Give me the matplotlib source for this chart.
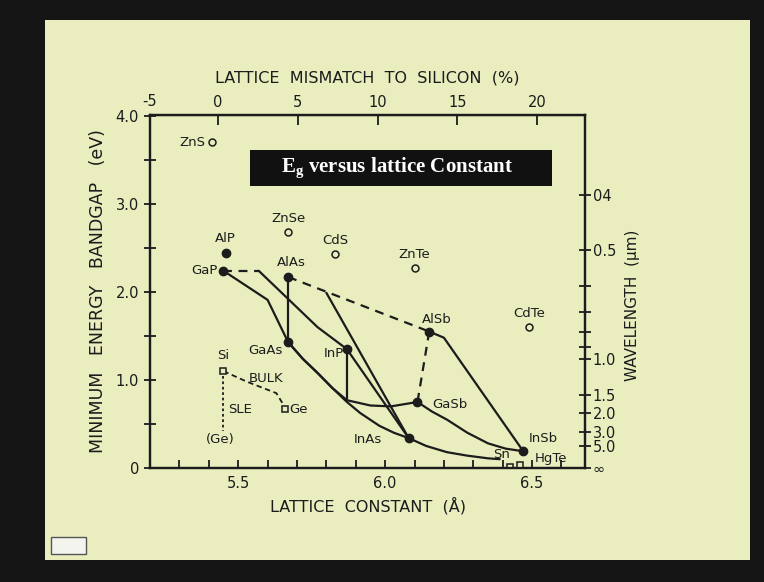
import numpy as np
import matplotlib.pyplot as plt
from matplotlib.patches import Rectangle

# binary compounds: lattice constant (A), gap (eV)
iii_v = ['AlP', 'GaP', 'AlAs', 'GaAs', 'InP', 'AlSb', 'GaSb', 'InAs', 'InSb']
iii_v_a = [5.46, 5.45, 5.67, 5.67, 5.87, 6.15, 6.11, 6.08, 6.47]
iii_v_eg = [2.44, 2.24, 2.17, 1.43, 1.35, 1.55, 0.75, 0.34, 0.19]

ii_vi = ['ZnS', 'ZnSe', 'CdS', 'ZnTe', 'CdTe']
ii_vi_a = [5.41, 5.67, 5.83, 6.10, 6.49]
ii_vi_eg = [3.70, 2.68, 2.43, 2.27, 1.60]

# ternary curves (a, Eg)
gap_gaas_a = [5.45, 5.60, 5.67]
gap_gaas_eg = [2.24, 1.91, 1.43]
gap_inp_dash_a = [5.45, 5.57]
gap_inp_dash_eg = [2.24, 2.24]
gap_inp_a = [5.57, 5.67, 5.77, 5.87]
gap_inp_eg = [2.24, 1.92, 1.60, 1.35]
alas_gaas_a = [5.67, 5.67]
alas_gaas_eg = [2.17, 1.43]
alas_alsb_a = [5.67, 6.15]
alas_alsb_eg = [2.17, 1.55]
alinas_a = [5.80, 6.08]
alinas_eg = [1.99, 0.34]
inp_inas_a = [5.87, 6.08]
inp_inas_eg = [1.35, 0.34]
inp_drop_a = [5.87, 5.87]
inp_drop_eg = [1.35, 0.78]
gaas_gasb_a = [5.67, 5.72, 5.77, 5.82, 5.87, 5.95, 6.02, 6.11]
gaas_gasb_eg = [1.43, 1.24, 1.08, 0.91, 0.77, 0.71, 0.70, 0.75]
gaas_inas_a = [5.67, 5.72, 5.77, 5.82, 5.87, 5.915, 5.98, 6.03, 6.08]
gaas_inas_eg = [1.43, 1.24, 1.08, 0.91, 0.75, 0.625, 0.48, 0.40, 0.34]
inas_insb_a = [6.08, 6.14, 6.21, 6.28, 6.35, 6.39]
inas_insb_eg = [0.34, 0.25, 0.18, 0.14, 0.11, 0.10]
gasb_insb_a = [6.11, 6.16, 6.21, 6.28, 6.35, 6.41, 6.47]
gasb_insb_eg = [0.75, 0.64, 0.55, 0.40, 0.28, 0.22, 0.19]
alsb_insb_a = [6.15, 6.20, 6.47]
alsb_insb_eg = [1.55, 1.48, 0.19]
alsb_gasb_a = [6.15, 6.11]
alsb_gasb_eg = [1.55, 0.75]

# Si / Ge
si_ge_a = [5.45, 5.53, 5.63, 5.65, 5.66]
si_ge_eg = [1.10, 0.98, 0.85, 0.74, 0.68]
sle_a = [5.45, 5.45]
sle_eg = [1.04, 0.42]
sq_a = [5.45, 5.66, 6.425, 6.46]
sq_eg = [1.10, 0.67, 0.01, 0.03]

# right axis: wavelength (um) -> 1.24/lambda
wl_major = [0.4, 0.5, 1.0, 1.5, 2.0, 3.0, 5.0]
wl_labels = ['04', '0.5', '1.0', '1.5', '2.0', '3.0', '5.0']
wl_minor = [0.6, 0.7, 0.8, 0.9]
mismatch_ticks = [0, 5, 10, 15, 20]

ink = '#1c1c1c'
paper = '#eaedbe'
plt.rcParams['font.family'] = 'DejaVu Sans'

fig = plt.figure(figsize=(7.64, 5.82), dpi=100)
fig.patch.set_facecolor('#151515')
bg = fig.add_axes([45/764, 1-560/582, 705/764, 540/582], zorder=-5)
bg.set_facecolor(paper)
bg.set_xticks([])
bg.set_yticks([])
for s in bg.spines.values():
    s.set_visible(False)
# small slide-control icon bottom left
bg.add_patch(Rectangle((0.008, 0.012), 0.05, 0.03, transform=bg.transAxes,
                       fc='#f4f4ee', ec='#555555', lw=1))

ax = fig.add_axes([150/764, 1-468/582, 435/764, 353/582])
ax.set_facecolor('none')
ax.set_xlim(5.20, 6.68)
ax.set_ylim(0, 4.01)

lw = 1.6
def solid(a, e):
    ax.plot(a, e, color=ink, lw=lw, solid_capstyle='round', solid_joinstyle='round')
def dashed(a, e):
    ax.plot(a, e, color=ink, lw=lw, ls=(0, (4, 3)))

solid(gap_gaas_a, gap_gaas_eg)
dashed(gap_inp_dash_a, gap_inp_dash_eg)
solid(gap_inp_a, gap_inp_eg)
solid(alas_gaas_a, alas_gaas_eg)
dashed(alas_alsb_a, alas_alsb_eg)
solid(alinas_a, alinas_eg)
solid(inp_inas_a, inp_inas_eg)
solid(inp_drop_a, inp_drop_eg)
solid(gaas_gasb_a, gaas_gasb_eg)
solid(gaas_inas_a, gaas_inas_eg)
solid(inas_insb_a, inas_insb_eg)
solid(gasb_insb_a, gasb_insb_eg)
solid(alsb_insb_a, alsb_insb_eg)
dashed(alsb_gasb_a, alsb_gasb_eg)
ax.plot(si_ge_a, si_ge_eg, color=ink, lw=1.3, ls=(0, (3, 2)))
ax.plot(sle_a, sle_eg, color=ink, lw=1.3, ls=(0, (1.5, 1.5)))

ax.plot(iii_v_a, iii_v_eg, 'o', color=ink, ms=6, zorder=5)
ax.plot(ii_vi_a, ii_vi_eg, 'o', mfc='none', mec=ink, ms=5, mew=1.1)
ax.plot(sq_a, sq_eg, 's', mfc=paper, mec=ink, ms=5, mew=1.1, zorder=6)

fs = 9.5
lbl = dict(color=ink, fontsize=fs, va='center')
ax.text(5.39, 3.70, 'ZnS', ha='right', **lbl)
for n, a, e in zip(ii_vi[1:], ii_vi_a[1:], ii_vi_eg[1:]):
    ax.text(a, e + 0.15, n, ha='center', **lbl)
ax.text(5.456, 2.61, 'AlP', ha='center', **lbl)
ax.text(5.43, 2.24, 'GaP', ha='right', **lbl)
ax.text(5.68, 2.33, 'AlAs', ha='center', **lbl)
ax.text(6.125, 1.69, 'AlSb', ha='left', **lbl)
ax.text(5.65, 1.34, 'GaAs', ha='right', **lbl)
ax.text(5.86, 1.30, 'InP', ha='right', **lbl)
ax.text(6.16, 0.72, 'GaSb', ha='left', **lbl)
ax.text(5.94, 0.32, 'InAs', ha='center', **lbl)
ax.text(6.49, 0.34, 'InSb', ha='left', **lbl)
ax.text(6.51, 0.11, 'HgTe', ha='left', **lbl)
ax.text(6.367, 0.15, 'Sn', ha='left', **lbl)
ax.text(5.45, 1.28, 'Si', ha='center', **lbl)
ax.text(5.535, 1.02, 'BULK', ha='left', **lbl)
ax.text(5.465, 0.66, 'SLE', ha='left', **lbl)
ax.text(5.675, 0.67, 'Ge', ha='left', **lbl)
ax.text(5.44, 0.32, '(Ge)', ha='center', **lbl)

# black title box
ax.add_patch(Rectangle((0.23, 0.799), 0.694, 0.102, transform=ax.transAxes,
                       fc='#111111', ec='none', zorder=7))
ax.text(0.568, 0.85, r'E$_\mathregular{g}$ versus lattice Constant', transform=ax.transAxes,
        color='white', fontsize=15, fontweight='bold', family='Liberation Serif',
        ha='center', va='center', zorder=8)

# bottom / left axes
ax.set_xticks([5.5, 6.0, 6.5])
ax.set_xticklabels(['5.5', '6.0', '6.5'])
ax.set_xticks(np.arange(5.3, 6.65, 0.1), minor=True)
ax.set_yticks([0, 1, 2, 3, 4])
ax.set_yticklabels(['0', '1.0', '2.0', '3.0', '4.0'])
ax.set_yticks([0.5, 1.5, 2.5, 3.5], minor=True)
ax.tick_params(axis='x', which='both', direction='in', top=False, length=6, width=1.3,
               labelsize=10.5, colors=ink, pad=6)
ax.tick_params(axis='y', which='both', direction='inout', right=False, length=9, width=1.3,
               labelsize=10.5, colors=ink)
for s in ax.spines.values():
    s.set_linewidth(1.6)
    s.set_color(ink)
ax.set_xlabel('LATTICE  CONSTANT  (Å)', fontsize=11.5, color=ink, labelpad=4)
ax.set_ylabel('MINIMUM   ENERGY   BANDGAP   (eV)', fontsize=12.5, color=ink, labelpad=6)

# top axis: lattice mismatch to silicon
top = ax.secondary_xaxis('top', functions=(lambda a: (a - 5.431) / 5.431 * 100,
                                           lambda m: 5.431 * (1 + m / 100)))
top.set_xticks(mismatch_ticks)
top.tick_params(direction='in', length=7, width=1.3, labelsize=10.5, colors=ink)
top.set_xlabel('LATTICE  MISMATCH  TO  SILICON  (%)', fontsize=11.5, color=ink, labelpad=9)
ax.text(5.20, 4.08, '-5', fontsize=10.5, color=ink, ha='center', va='bottom')

# right axis: wavelength
rt = ax.twinx()
rt.set_ylim(ax.get_ylim())
rt.set_yticks([1.24 / w for w in wl_major] + [0.0])
rt.set_yticklabels(wl_labels + ['∞'])
rt.set_yticks([1.24 / w for w in wl_minor], minor=True)
rt.tick_params(which='both', direction='inout', length=9, width=1.3, labelsize=10.5,
               colors=ink, pad=1)
for s in rt.spines.values():
    s.set_linewidth(1.6)
    s.set_color(ink)
rt.set_ylabel('WAVELENGTH  (µm)', fontsize=11, color=ink)
rt.yaxis.set_label_coords(1.092, 0.462)

fig.savefig('out.png', dpi=100, facecolor=fig.get_facecolor())
